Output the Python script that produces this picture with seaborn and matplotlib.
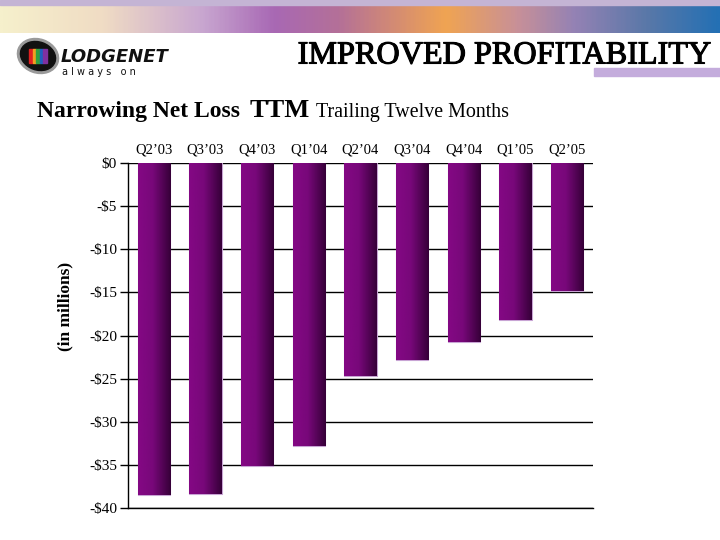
import numpy as np
import pandas as pd
import matplotlib
matplotlib.use("Agg")
import matplotlib.pyplot as plt
import matplotlib.patheffects as pe
from matplotlib.colors import LinearSegmentedColormap
from matplotlib.patches import Ellipse, Rectangle
import seaborn as sns

# TTM net loss, $ millions
quarters = ["Q2\u201903", "Q3\u201903", "Q4\u201903", "Q1\u201904", "Q2\u201904",
            "Q3\u201904", "Q4\u201904", "Q1\u201905", "Q2\u201905"]
net_loss = [-38.5, -38.4, -35.1, -32.8, -24.7, -22.8, -20.8, -18.2, -14.8]
y_ticks = [0, -5, -10, -15, -20, -25, -30, -35, -40]

df = pd.DataFrame({"quarter": quarters, "loss": net_loss})

sns.set_theme(style="white")
plt.rcParams["font.family"] = ["Liberation Serif", "DejaVu Serif"]
plt.rcParams["text.color"] = "black"
plt.rcParams["axes.labelcolor"] = "black"
plt.rcParams["xtick.color"] = "black"
plt.rcParams["ytick.color"] = "black"

fig = plt.figure(figsize=(7.2, 5.4), dpi=100)
fig.patch.set_facecolor("white")

# background / header decoration in pixel coordinates
bg = fig.add_axes([0, 0, 1, 1])
bg.set_xlim(0, 720)
bg.set_ylim(540, 0)
bg.axis("off")
head_cmap = LinearSegmentedColormap.from_list("head", [
    (0.00, "#f6f0cc"), (0.14, "#f0dcc4"), (0.28, "#c8a6d0"), (0.38, "#a868b4"),
    (0.47, "#b47098"), (0.62, "#f0a452"), (0.72, "#c89098"), (0.80, "#9482b4"),
    (0.90, "#5a78a8"), (1.00, "#2470b4")])
bg.imshow(np.linspace(0, 1, 400)[None, :], cmap=head_cmap, aspect="auto",
          extent=(0, 720, 33, 5))
bg.add_patch(Rectangle((0, 0), 720, 5, color="#c4b4d4"))
bg.add_patch(Rectangle((594, 68), 126, 8, color="#c4acdc"))
bg.add_patch(Ellipse((38, 56), 42, 34, angle=20, color="#9a9a9a"))
bg.add_patch(Ellipse((38, 56), 36, 28, angle=20, color="#111111"))
for i, c in enumerate(["#e02020", "#f0a020", "#30a040", "#2060c0", "#8030a0"]):
    bg.add_patch(Rectangle((29 + i * 3.5, 49), 3.5, 14, color=c))
bg.text(61, 57, "LODGENET", fontsize=13, fontweight="bold", fontstyle="italic",
        family="DejaVu Sans", va="center", ha="left", color="#111111")
bg.text(62, 72, "a l w a y s   o n", fontsize=7, family="DejaVu Sans",
        va="center", ha="left", color="#111111")
bg.text(712, 56, "IMPROVED PROFITABILITY", fontsize=23.2, ha="right", va="center",
        color="black",
        path_effects=[pe.withStroke(linewidth=0.8, foreground="black")])
bg.text(37, 117, "Narrowing Net Loss", fontsize=17, fontweight="bold",
        ha="left", va="baseline")
bg.text(250, 117, "TTM", fontsize=19, fontweight="bold", ha="left", va="baseline")
bg.text(316, 117, "Trailing Twelve Months", fontsize=14.4, ha="left", va="baseline")

ax = fig.add_axes([128 / 720, 1 - 508 / 540, 465 / 720, 345 / 540])
ax.set_facecolor("none")
sns.barplot(data=df, x="quarter", y="loss", ax=ax, color="#80087c",
            width=0.62, edgecolor="#c8a4d4", linewidth=0.8)

# horizontal shading on each bar
bar_cmap = LinearSegmentedColormap.from_list("bar", [
    (0.0, "#840884"), (0.45, "#78087a"), (1.0, "#360038")])
grad = np.linspace(0, 1, 100)[None, :]
for p in ax.patches:
    x0, y0 = p.get_x(), p.get_y()
    w, h = p.get_width(), p.get_height()
    im = ax.imshow(grad, cmap=bar_cmap, aspect="auto", zorder=3,
                   extent=(x0, x0 + w, y0 + h, y0))
    im.set_clip_path(p)
    p.set_zorder(2)

ax.set_xlim(-0.5, len(quarters) - 0.5)
ax.set_ylim(-40, 0)
ax.set_yticks(y_ticks)
ax.set_yticklabels(["$0" if v == 0 else f"-${-v}" for v in y_ticks], fontsize=11)
ax.xaxis.tick_top()
ax.tick_params(axis="x", length=0, pad=5, labelsize=10.5)
ax.tick_params(axis="y", length=6, width=1, color="black", direction="out",
               left=True, pad=2)
ax.grid(axis="y", color="black", linewidth=1)
ax.set_axisbelow(True)
for s in ["top", "right"]:
    ax.spines[s].set_visible(False)
for s in ["left", "bottom"]:
    ax.spines[s].set_color("black")
    ax.spines[s].set_linewidth(1)
ax.set_xlabel("")
ax.set_ylabel("(in millions)", fontsize=12.5, fontweight="bold")
ax.yaxis.set_label_coords(-0.118, 0.585)

fig.savefig("out.png", dpi=100)
